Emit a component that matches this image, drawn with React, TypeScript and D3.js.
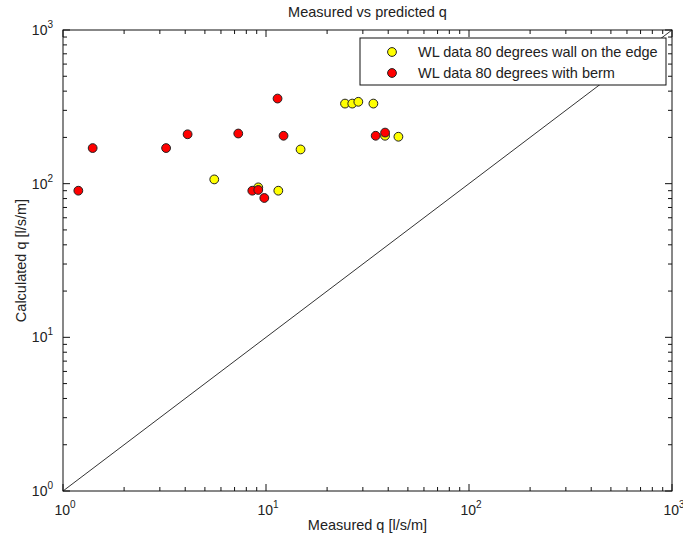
import React, { useEffect, useRef } from 'react';
import * as d3 from 'd3';

// measured q [l/s/m] vs calculated q [l/s/m]
const edgeMeasured = [5.56, 14.8, 11.5, 9.16, 24.5, 26.6, 28.5, 33.8, 38.6, 44.9];
const edgeCalculated = [106.6, 167, 90, 94.6, 332, 332, 341, 332, 205, 202];
const bermMeasured = [1.19, 1.4, 3.22, 4.11, 7.3, 11.4, 12.2, 8.56, 9.16, 9.81, 34.7, 38.6];
const bermCalculated = [90, 170.5, 170.5, 209.6, 212, 358, 205, 90, 91, 80.7, 205, 215];

const seriesNames = ['WL data 80 degrees wall on the edge', 'WL data 80 degrees with berm'];
const seriesColors = ['#ffff00', '#ff0000'];
const decades = [1, 10, 100, 1000];

const App = () => {
    const svgRef = useRef(null);

    useEffect(() => {
        const svg = d3.select(svgRef.current);
        svg.selectAll('*').remove();

        const width = 683;
        const height = 538;
        const margin = { top: 30, right: 11, bottom: 47, left: 63 };
        const chartWidth = width - margin.left - margin.right;
        const chartHeight = height - margin.top - margin.bottom;
        const font = 'Arial, "Liberation Sans", Helvetica, sans-serif';

        svg.attr('width', width).attr('height', height);
        svg.append('rect').attr('width', width).attr('height', height).attr('fill', 'white');

        const g = svg.append('g').attr('transform', `translate(${margin.left},${margin.top})`);

        const x = d3.scaleLog().domain([1, 1000]).range([0, chartWidth]);
        const y = d3.scaleLog().domain([1, 1000]).range([chartHeight, 0]);

        // y = x reference line
        g.append('line')
            .attr('x1', x(1)).attr('y1', y(1))
            .attr('x2', x(1000)).attr('y2', y(1000))
            .attr('stroke', '#333')
            .attr('stroke-width', 1);

        // points: yellow first, red drawn on top
        const pointSets = [
            edgeMeasured.map((m, i) => ({ m, c: edgeCalculated[i] })),
            bermMeasured.map((m, i) => ({ m, c: bermCalculated[i] })),
        ];
        pointSets.forEach((pts, s) => {
            g.selectAll(`.pt-${s}`)
                .data(pts)
                .enter()
                .append('circle')
                .attr('class', `pt-${s}`)
                .attr('cx', d => x(d.m))
                .attr('cy', d => y(d.c))
                .attr('r', 4.4)
                .attr('fill', seriesColors[s])
                .attr('stroke', '#222')
                .attr('stroke-width', 1);
        });

        // box
        g.append('rect')
            .attr('width', chartWidth)
            .attr('height', chartHeight)
            .attr('fill', 'none')
            .attr('stroke', '#111')
            .attr('stroke-width', 1);

        // ticks on all four sides, pointing in
        const isMajor = v => Math.abs(Math.log10(v) - Math.round(Math.log10(v))) < 1e-9;
        const tickLen = v => (isMajor(v) ? 7 : 4);
        x.ticks().forEach(v => {
            g.append('line').attr('x1', x(v)).attr('x2', x(v)).attr('y1', chartHeight).attr('y2', chartHeight - tickLen(v)).attr('stroke', '#111');
            g.append('line').attr('x1', x(v)).attr('x2', x(v)).attr('y1', 0).attr('y2', tickLen(v)).attr('stroke', '#111');
        });
        y.ticks().forEach(v => {
            g.append('line').attr('y1', y(v)).attr('y2', y(v)).attr('x1', 0).attr('x2', tickLen(v)).attr('stroke', '#111');
            g.append('line').attr('y1', y(v)).attr('y2', y(v)).attr('x1', chartWidth).attr('x2', chartWidth - tickLen(v)).attr('stroke', '#111');
        });

        // tick labels 10^n
        const powLabel = (sel, v) => {
            sel.append('tspan').text('10');
            sel.append('tspan').attr('dy', -7).attr('font-size', 10).text(String(Math.round(Math.log10(v))));
        };
        decades.forEach(v => {
            const tx = g.append('text')
                .attr('x', x(v) + 2)
                .attr('y', chartHeight + 24)
                .attr('text-anchor', 'middle')
                .attr('font-family', font)
                .attr('font-size', 14)
                .attr('fill', '#222');
            powLabel(tx, v);
            const ty = g.append('text')
                .attr('x', -10)
                .attr('y', y(v) + 5)
                .attr('text-anchor', 'end')
                .attr('font-family', font)
                .attr('font-size', 14)
                .attr('fill', '#222');
            powLabel(ty, v);
        });

        // title and axis labels
        svg.append('text')
            .attr('x', margin.left + chartWidth / 2)
            .attr('y', 17)
            .attr('text-anchor', 'middle')
            .attr('font-family', font)
            .attr('font-size', 14.5)
            .attr('fill', '#222')
            .text('Measured vs predicted q');

        svg.append('text')
            .attr('x', margin.left + chartWidth / 2)
            .attr('y', 530)
            .attr('text-anchor', 'middle')
            .attr('font-family', font)
            .attr('font-size', 14.5)
            .attr('fill', '#222')
            .text('Measured q [l/s/m]');

        svg.append('text')
            .attr('transform', `translate(26,${margin.top + chartHeight / 2}) rotate(-90)`)
            .attr('text-anchor', 'middle')
            .attr('font-family', font)
            .attr('font-size', 14.5)
            .attr('fill', '#222')
            .text('Calculated q [l/s/m]');

        // legend
        const legend = svg.append('g').attr('transform', 'translate(360,38)');
        legend.append('rect')
            .attr('width', 306)
            .attr('height', 47)
            .attr('fill', 'white')
            .attr('stroke', '#111')
            .attr('stroke-width', 1);
        seriesNames.forEach((name, i) => {
            legend.append('circle')
                .attr('cx', 32)
                .attr('cy', 14 + i * 21)
                .attr('r', 4.4)
                .attr('fill', seriesColors[i])
                .attr('stroke', '#222');
            legend.append('text')
                .attr('x', 58)
                .attr('y', 19 + i * 21)
                .attr('font-family', font)
                .attr('font-size', 14.5)
                .attr('fill', '#222')
                .text(name);
        });
    }, []);

    return (
        <svg ref={svgRef} style={{ position: 'absolute', left: 0, top: 0 }}></svg>
    );
};

export default App;
